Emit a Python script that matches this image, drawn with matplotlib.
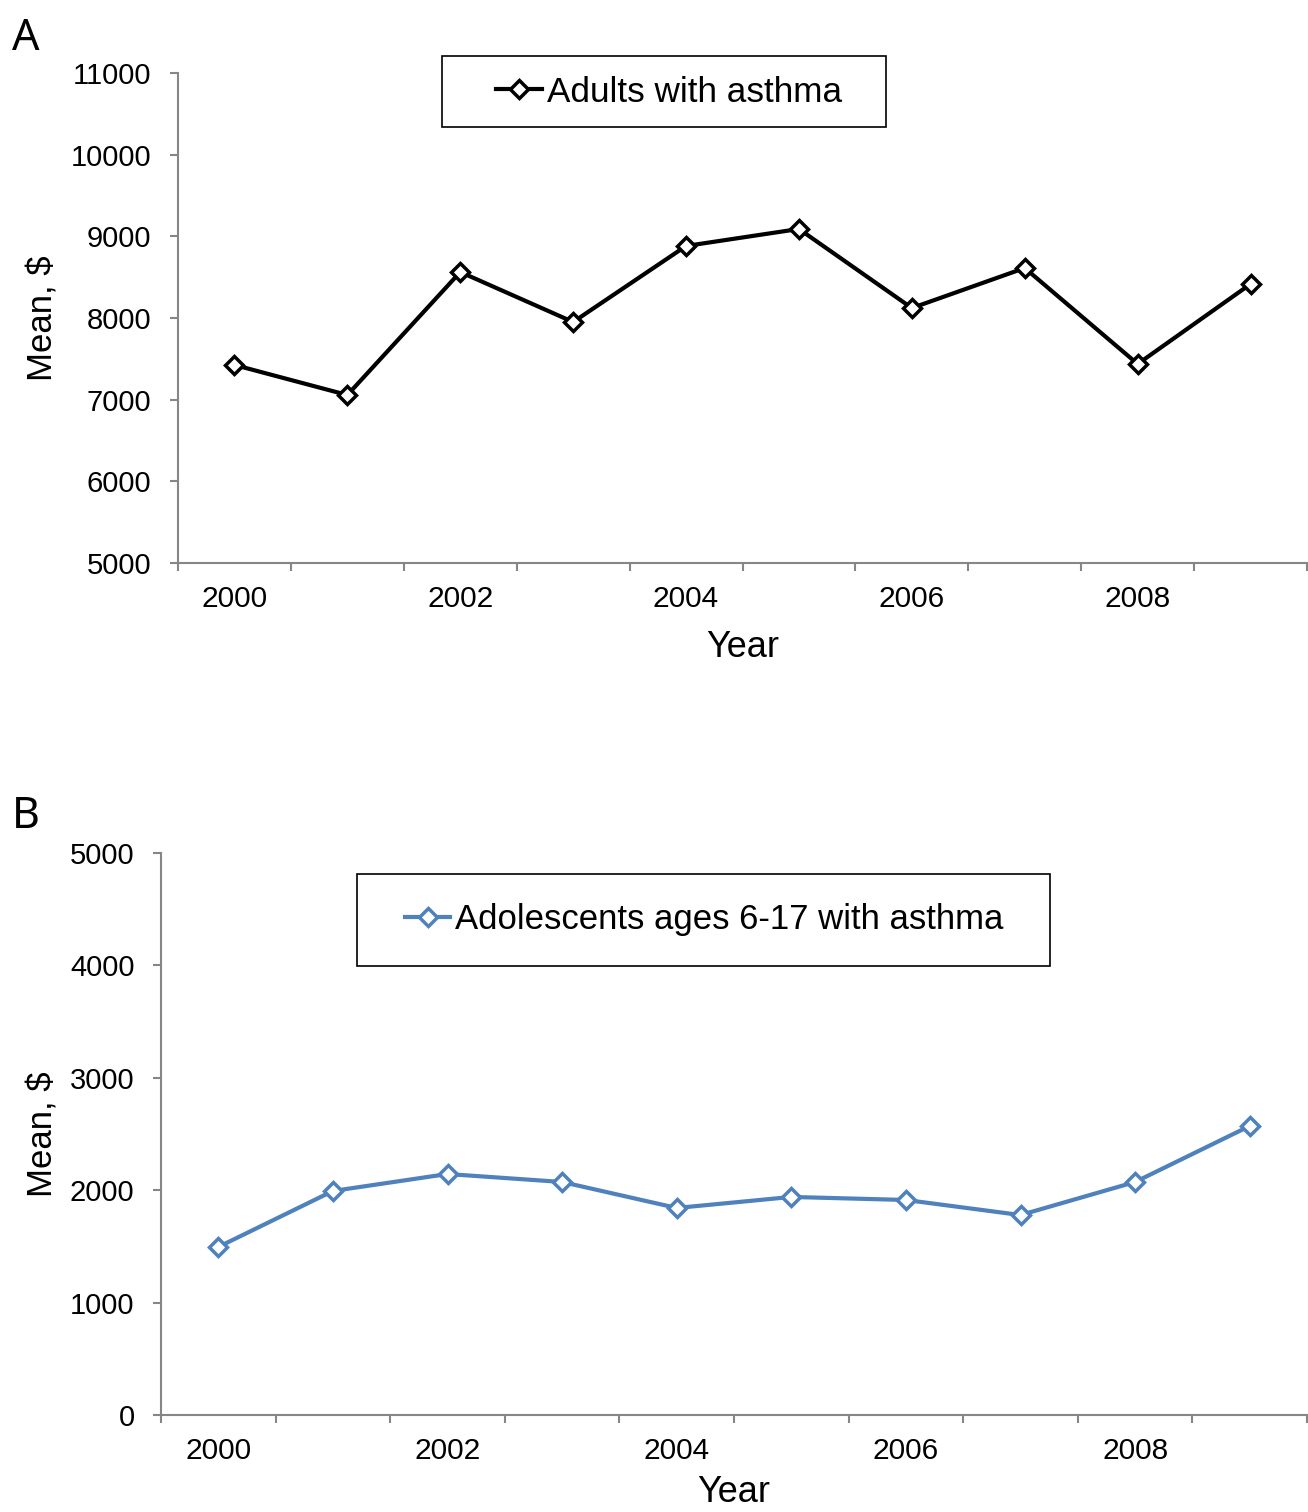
import numpy as np
import matplotlib.pyplot as plt
from matplotlib.patches import Rectangle

plt.rcParams['font.family'] = ['Liberation Sans', 'DejaVu Sans']

# data
years = list(range(2000, 2010))
adults = [7425, 7057, 8563, 7951, 8882, 9090, 8122, 8612, 7437, 8416]
adolescents = [1495, 1993, 2144, 2073, 1842, 1940, 1913, 1779, 2073, 2571]

AXIS_GRAY = '#868686'
BLUE = '#4F81BD'

fig = plt.figure(figsize=(13.08, 15.12), dpi=100)


def style_axes(ax, ylo, yhi, ylab_x, xlab_pad):
    n = len(years)
    x = np.arange(n)
    ax.set_xlim(-0.5, n - 0.5)
    ax.set_ylim(ylo, yhi)
    ax.set_yticks(np.arange(ylo, yhi + 1, 1000))
    # ticks at category boundaries, labels at centres (every other year)
    ax.set_xticks(np.arange(-0.5, n, 1.0))
    ax.set_xticklabels([])
    ax.set_xticks(x[::2], minor=True)
    ax.set_xticklabels([str(y) for y in years[::2]], minor=True)
    ax.tick_params(axis='x', which='minor', length=0, pad=16, labelsize=21.5)
    ax.tick_params(axis='x', which='major', length=6, width=1.5,
                   color=AXIS_GRAY, direction='out')
    ax.tick_params(axis='y', length=6, width=1.5, color=AXIS_GRAY,
                   direction='out', pad=13, labelsize=21)
    for s in ['top', 'right']:
        ax.spines[s].set_visible(False)
    for s in ['left', 'bottom']:
        ax.spines[s].set_color(AXIS_GRAY)
        ax.spines[s].set_linewidth(1.5)
    ax.set_xlabel('Year', fontsize=26, labelpad=xlab_pad)
    ax.set_ylabel('Mean, $', fontsize=25)
    ax.yaxis.set_label_coords(ylab_x, 0.5)
    return x


# ---- panel A ----
axA = fig.add_axes([178 / 1308, 1 - 563 / 1512, 1129 / 1308, 490 / 1512])
xA = style_axes(axA, 5000, 11000, -0.105, 12)
axA.plot(xA, adults, color='black', lw=3, marker='D', ms=9,
         mfc='white', mec='black', mew=2.5, label='Adults with asthma')
fig.legend(handles=axA.get_lines(), loc='center left',
           bbox_to_anchor=(496 / 1308, 1 - 92 / 1512), frameon=False,
           fontsize=25.3, borderpad=0, borderaxespad=0,
           handlelength=1.3, handletextpad=0.15)
fig.patches.append(Rectangle((442 / 1308, 1 - 127 / 1512), 444 / 1308, 71 / 1512,
                             transform=fig.transFigure, fill=False,
                             edgecolor='black', lw=1.2))
fig.text(12 / 1308, 1 - 50 / 1512, 'A', fontsize=31, family='Noto Sans',
         va='baseline', ha='left')

# ---- panel B ----
axB = fig.add_axes([161 / 1308, 1 - 1415 / 1512, 1146 / 1308, 562 / 1512])
xB = style_axes(axB, 0, 5000, -0.089, 7)
axB.plot(xB, adolescents, color=BLUE, lw=3, marker='D', ms=9,
         mfc='white', mec=BLUE, mew=2.5,
         label='Adolescents ages 6-17 with asthma')
fig.legend(handles=axB.get_lines(), loc='center left',
           bbox_to_anchor=(405 / 1308, 1 - 920 / 1512), frameon=False,
           fontsize=25, borderpad=0, borderaxespad=0,
           handlelength=1.3, handletextpad=0.15)
fig.patches.append(Rectangle((357 / 1308, 1 - 966 / 1512), 693 / 1308, 92 / 1512,
                             transform=fig.transFigure, fill=False,
                             edgecolor='black', lw=1.2))
fig.text(12 / 1308, 1 - 828 / 1512, 'B', fontsize=31, family='Noto Sans',
         va='baseline', ha='left')

fig.savefig('out.png', dpi=100)
